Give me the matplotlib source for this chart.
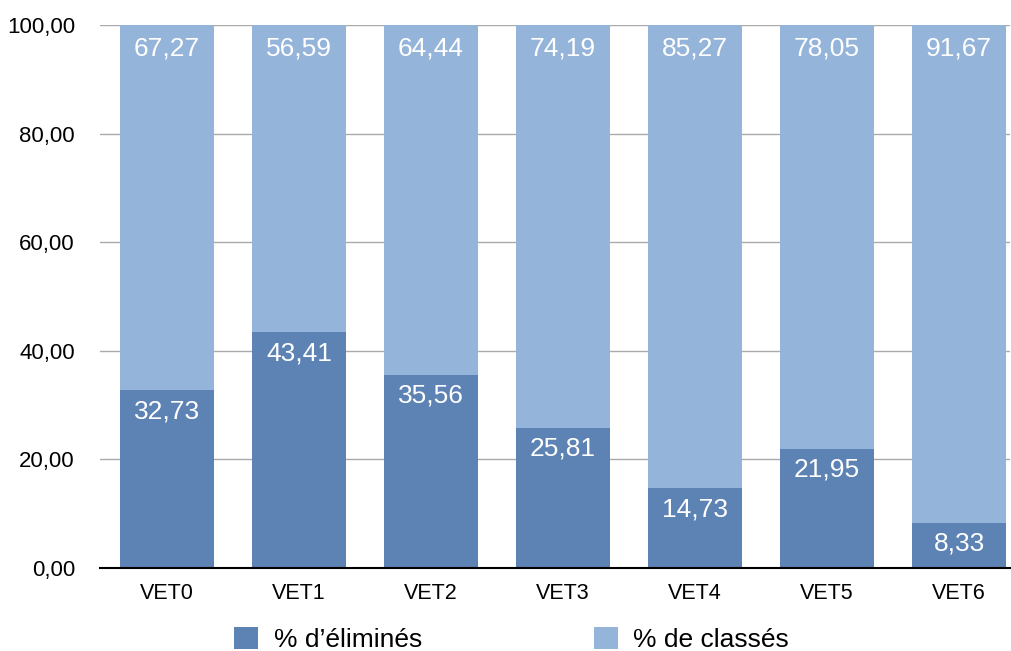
import matplotlib
matplotlib.use("Agg")
import matplotlib.pyplot as plt
import numpy as np

categories = ["VET0", "VET1", "VET2", "VET3", "VET4", "VET5", "VET6"]
elimines = [32.73, 43.41, 35.56, 25.81, 14.73, 21.95, 8.33]
classes = [67.27, 56.59, 64.44, 74.19, 85.27, 78.05, 91.67]
yticks = [0, 20, 40, 60, 80, 100]

plt.rcParams['font.family'] = ['Liberation Sans', 'DejaVu Sans']

dark = "#5d82b4"
light = "#95b4da"

fig = plt.figure(figsize=(10.11, 6.51), dpi=100)
ax = fig.add_axes([100/1011, 83/651, 910/1011, 543/651])

x = np.arange(len(categories))
w = 0.712
b1 = ax.bar(x, elimines, w, color=dark, label="% d\u2019\u00e9limin\u00e9s", zorder=2)
b2 = ax.bar(x, classes, w, bottom=elimines, color=light, label="% de class\u00e9s", zorder=2)

fmt = lambda v: f"{v:.2f}".replace(".", ",")
for xi, e, c in zip(x, elimines, classes):
    ax.annotate(fmt(e), (xi, e), xytext=(0, -6.5), textcoords="offset points",
                ha="center", va="top", color="white", fontsize=19, zorder=3)
    ax.annotate(fmt(c), (xi, e + c), xytext=(0, -8.5), textcoords="offset points",
                ha="center", va="top", color="white", fontsize=19, zorder=3)

ax.set_xlim(-0.508, 6.386)
ax.set_ylim(0, 100)
ax.set_yticks(yticks)
ax.set_yticklabels([fmt(v) for v in yticks], fontsize=16)
ax.set_xticks(x)
ax.set_xticklabels(categories, fontsize=15.5)
ax.tick_params(axis="both", length=0)
ax.tick_params(axis="y", pad=18)
ax.tick_params(axis="x", pad=11)
ax.yaxis.grid(True, color="#aaaaaa", linewidth=1, zorder=0)
for s in ["top", "right", "left"]:
    ax.spines[s].set_visible(False)
ax.spines["bottom"].set_color("black")
ax.spines["bottom"].set_linewidth(1.5)
ax.spines["bottom"].set_zorder(4)

fig.legend(handles=[b1, b2], loc="center", bbox_to_anchor=(0.506, 0.018), ncol=2,
           frameon=False, fontsize=19, handlelength=0.91, handleheight=0.91,
           columnspacing=6.5, handletextpad=0.6, borderpad=0, borderaxespad=0)

fig.savefig("out.png", dpi=100)
